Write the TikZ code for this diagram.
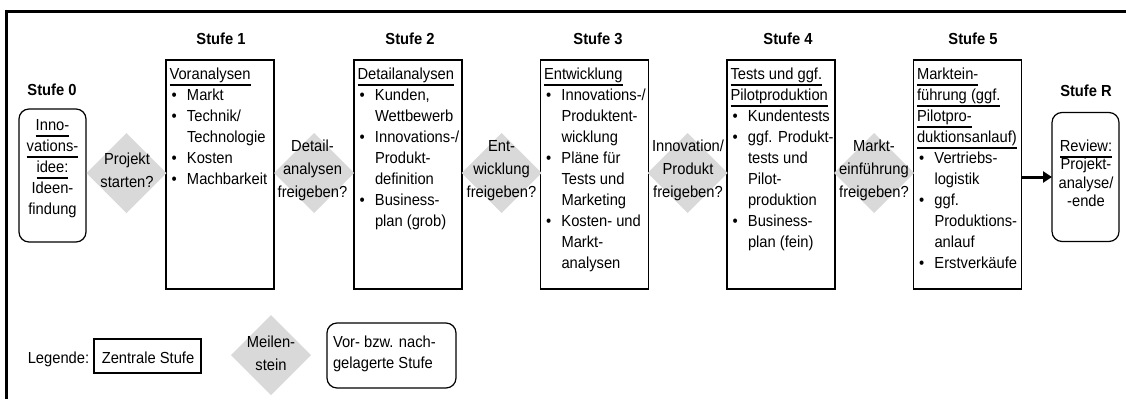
\documentclass[tikz,border=0pt]{standalone}
\usepackage{fontspec}
\setmainfont{Liberation Sans}[FakeStretch=0.92]
\usetikzlibrary{shapes.geometric,arrows.meta,calc}
\definecolor{msgrey}{RGB}{217,217,217}

% underlined word with a rule just below the baseline
\newcommand\ulx[1]{\setbox0\hbox{#1}\rlap{\vrule width\wd0 height-4.3pt depth6pt}\box0}
% stack of lines: the top of the box is the first baseline
\newcommand\stack[2]{\vbox{\baselineskip=#1\lineskiplimit=-100pt\lineskip=0pt
  \hrule height0pt width0pt\kern-#1\hbox{}#2}}
\newcommand\cl[1]{\hbox to0pt{\hss#1\hss}}
\newcommand\lnx[1]{\hbox{#1}}
\newcommand\hdl[1]{\hbox{\kern3.5pt\ulx{#1}}}
\newcommand\bul[1]{\hbox{\hbox to21pt{\kern5.5pt\textbullet\hss}#1}}
\newcommand\cnt[1]{\hbox{\kern21pt#1}}

\tikzset{
  stage/.style={draw, line width=1.2pt, minimum width=108pt, minimum height=229pt,
    inner sep=0pt, outer sep=0pt},
  outer/.style={draw, line width=1.2pt, rounded corners=10pt, inner sep=0pt, outer sep=0pt},
  plain/.style={draw, line width=1.2pt, inner sep=0pt, outer sep=0pt},
  gate/.style={diamond, fill=msgrey, inner sep=0pt, outer sep=0pt,
    minimum width=80pt, minimum height=80pt},
  txt/.style={inner sep=0pt, outer sep=0pt, font=\fontsize{16}{21}\selectfont},
  head/.style={inner sep=0pt, outer sep=0pt, anchor=base,
    font=\fontsize{16}{21}\selectfont\bfseries},
  flow/.style={line width=3pt, -{Triangle[length=9pt,width=11pt]}}
}

\begin{document}
\begin{tikzpicture}[x=1pt,y=-1pt]
\useasboundingbox (0,0) rectangle (1126,399);

% frame
\draw[line width=3pt] (1126,11) -- (6.5,11) -- (6.5,399);

% headers
\node[head] (h0) at (52,95) {Stufe 0};
\node[head] (h1) at (221,44) {Stufe 1};
\node[head] (h2) at (410,44) {Stufe 2};
\node[head] (h3) at (598,44) {Stufe 3};
\node[head] (h4) at (788,44) {Stufe 4};
\node[head] (h5) at (973,44) {Stufe 5};
\node[head] (hR) at (1086,96.5) {Stufe R};

% stage 0
\node[outer, minimum width=67pt, minimum height=133pt] (s0) at (52.5,175.5) {};
\node[txt, anchor=north] (s0t) at (52.5,130.5) {\stack{21pt}{%
  \cl{\ulx{Inno-}}\cl{\ulx{vations-}}\cl{\ulx{idee:}}\cl{Ideen-}\cl{findung}}};

% central stages
\node[stage] (s1) at (220,174.5) {};
\node[stage] (s2) at (408,174.5) {};
\node[stage] (s3) at (594.5,174.5) {};
\node[stage] (s4) at (781,174.5) {};
\node[stage] (s5) at (967.5,174.5) {};

\node[txt, anchor=north west] (s1t) at ($(s1.north west)+(0,19.5)$) {\stack{21pt}{%
  \hdl{Voranalysen}
  \bul{Markt}
  \bul{Technik/}
  \cnt{Technologie}
  \bul{Kosten}
  \bul{Machbarkeit}}};

\node[txt, anchor=north west] (s2t) at ($(s2.north west)+(0,19.5)$) {\stack{21pt}{%
  \hdl{Detailanalysen}
  \bul{Kunden,}
  \cnt{Wettbewerb}
  \bul{Innovations-/}
  \cnt{Produkt-}
  \cnt{definition}
  \bul{Business-}
  \cnt{plan (grob)}}};

\node[txt, anchor=north west] (s3t) at ($(s3.north west)+(0,19.5)$) {\stack{21pt}{%
  \hdl{Entwicklung}
  \bul{Innovations-/}
  \cnt{Produktent-}
  \cnt{wicklung}
  \bul{Pläne für}
  \cnt{Tests und}
  \cnt{Marketing}
  \bul{Kosten- und}
  \cnt{Markt-}
  \cnt{analysen}}};

\node[txt, anchor=north west] (s4t) at ($(s4.north west)+(0,19.5)$) {\stack{21pt}{%
  \hdl{Tests und ggf.}
  \hdl{Pilotproduktion}
  \bul{Kundentests}
  \bul{ggf. Produkt-}
  \cnt{tests und}
  \cnt{Pilot-}
  \cnt{produktion}
  \bul{Business-}
  \cnt{plan (fein)}}};

\node[txt, anchor=north west] (s5t) at ($(s5.north west)+(0,19.5)$) {\stack{21pt}{%
  \hdl{Marktein-}
  \hdl{führung (ggf.}
  \hdl{Pilotpro-}
  \hdl{duktionsanlauf)}
  \bul{Vertriebs-}
  \cnt{logistik}
  \bul{ggf.}
  \cnt{Produktions-}
  \cnt{anlauf}
  \bul{Erstverkäufe}}};

% review stage
\node[outer, minimum width=67pt, minimum height=129pt] (sR) at (1085.5,177) {};
\node[txt, anchor=north] (sRt) at (1086,151.5) {\stack{18.3pt}{%
  \cl{\ulx{Review:}}\cl{Projekt-}\cl{analyse/}\cl{-ende}}};

% milestones
\node[gate] (m1) at (126.5,173) {};
\node[gate] (m2) at (314,173) {};
\node[gate] (m3) at (501.5,173) {};
\node[gate] (m4) at (687.5,173) {};
\node[gate] (m5) at (874,173) {};

\node[txt, anchor=north] (m1t) at (127,164) {\stack{23pt}{\cl{Projekt}\cl{starten?}}};
\node[txt, anchor=north] (m2t) at (312.5,151) {\stack{23pt}{\cl{Detail-}\cl{analysen}\cl{freigeben?}}};
\node[txt, anchor=north] (m3t) at (501.5,151) {\stack{23pt}{\cl{Ent-}\cl{wicklung}\cl{freigeben?}}};
\node[txt, anchor=north] (m4t) at (688,151) {\stack{23pt}{\cl{Innovation/}\cl{Produkt}\cl{freigeben?}}};
\node[txt, anchor=north] (m5t) at (874,151) {\stack{23pt}{\cl{Markt-}\cl{einführung}\cl{freigeben?}}};

% hand-over to the review
\draw[flow] (s5.east |- sR.west) -- (sR.west);

% legend
\node[txt, anchor=base] (lg) at (58.5,363.5) {Legende:};
\node[plain, minimum width=107pt, minimum height=34pt] (lz) at (147.5,356) {};
\node[txt, anchor=base] (lzt) at (148,363.5) {Zentrale Stufe};
\node[gate] (lm) at (271,355) {};
\node[txt, anchor=north] (lmt) at (271,347.5) {\stack{23pt}{\cl{Meilen-}\cl{stein}}};
\node[outer, minimum width=129pt, minimum height=65pt] (lv) at (391.5,355.5) {};
\node[txt, anchor=north west] (lvt) at (333,347) {\stack{21pt}{\lnx{Vor- bzw. nach-}\lnx{gelagerte Stufe}}};
\end{tikzpicture}
\end{document}
